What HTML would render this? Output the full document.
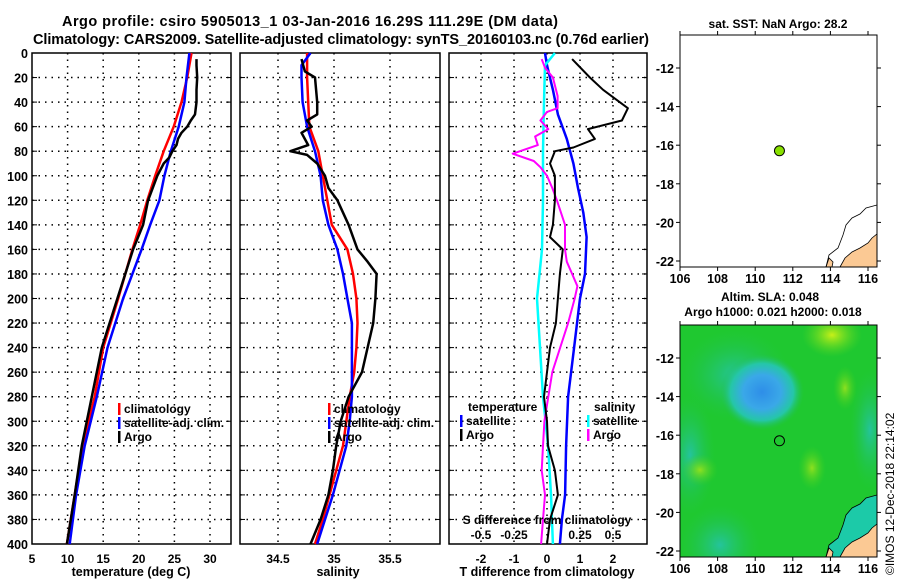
<!DOCTYPE html>
<html><head><meta charset="utf-8"><style>
body{margin:0;background:#fff;}
svg{display:block;font-family:"Liberation Sans",sans-serif;font-weight:bold;}
</style></head><body>
<svg id="c" width="900" height="580" viewBox="0 0 900 580">
<text x="310" y="26" text-anchor="middle" font-size="14.5" textLength="496">Argo profile: csiro 5905013_1 03-Jan-2016 16.29S 111.29E (DM data)</text>
<text x="341" y="44" text-anchor="middle" font-size="14.5" textLength="616">Climatology: CARS2009. Satellite-adjusted climatology: synTS_20160103.nc (0.76d earlier)</text>
<text x="778" y="28" text-anchor="middle" font-size="12">sat. SST: NaN Argo: 28.2</text>
<text x="770" y="301" text-anchor="middle" font-size="12">Altim. SLA: 0.048</text>
<text x="773" y="316" text-anchor="middle" font-size="12">Argo h1000: 0.021 h2000: 0.018</text>
<text transform="translate(894,575) rotate(-90)" font-size="12" font-weight="normal">©IMOS 12-Dec-2018 22:14:02</text>
<defs>
<radialGradient id="gBlue"><stop offset="0" stop-color="#2e8ee8"/><stop offset="0.45" stop-color="#3aa8e8"/><stop offset="0.75" stop-color="#25c6a8"/><stop offset="1" stop-color="#22c050" stop-opacity="0"/></radialGradient>
<radialGradient id="gCyan"><stop offset="0" stop-color="#24c49c"/><stop offset="1" stop-color="#22c44a" stop-opacity="0"/></radialGradient>
<radialGradient id="gYel"><stop offset="0" stop-color="#8ee020"/><stop offset="1" stop-color="#40d020" stop-opacity="0"/></radialGradient>
<radialGradient id="gYel2"><stop offset="0" stop-color="#c8f018"/><stop offset="1" stop-color="#60d820" stop-opacity="0"/></radialGradient>
<clipPath id="clipMap2"><rect x="680" y="325" width="197" height="232"/></clipPath>
</defs>
</svg>
<script>
// ---------- data ----------
const tDepths = [0,20,40,60,80,100,120,140,160,180,200,240,280,320,360,400];
const tClim   = [27.4,26.8,26.0,24.9,23.5,22.3,21.2,20.2,19.1,18.1,17.1,15.0,13.8,12.1,11.0,9.9];
const tSat    = [27.1,26.7,26.4,25.6,24.5,23.6,22.9,21.6,20.4,19.1,17.8,15.6,14.1,12.4,11.2,10.3];
const argoDepths = [5,10,20,30,40,50,55,60,65,70,75,80,85,90,100,120,140,160,200,240,280,320,360,400];
const tArgo   = [28.1,28.1,28.2,28.1,28.1,27.9,27.3,26.8,26.0,25.5,25.3,24.7,24.3,23.5,22.6,21.3,20.6,19.2,17.0,14.8,13.4,12.0,11.0,9.9];

const sDepths = [0,10,20,40,60,80,100,120,140,160,180,200,220,240,260,280,300,320,340,360,380,400];
const sClim = [34.76,34.76,34.76,34.77,34.78,34.86,34.90,34.94,34.98,35.12,35.17,35.20,35.21,35.20,35.18,35.14,35.11,35.08,35.02,34.96,34.90,34.83];
const sSat  = [34.79,34.71,34.71,34.72,34.76,34.83,34.88,34.90,34.95,35.03,35.08,35.12,35.16,35.16,35.16,35.16,35.14,35.11,35.05,34.99,34.92,34.85];
const sArgoDepths = [5,15,20,40,50,55,60,65,75,80,83,90,100,110,120,140,160,170,180,200,220,240,260,280,300,320,340,360,380,400];
const sArgo = [34.71,34.74,34.83,34.85,34.85,34.76,34.80,34.71,34.77,34.61,34.76,34.85,34.92,34.95,35.03,35.13,35.21,35.30,35.38,35.37,35.35,35.30,35.25,35.13,35.06,35.02,34.99,34.95,34.88,34.79];

const dTArgoDepths = [5,20,30,40,45,55,62,70,77,80,90,100,120,140,150,160,180,200,220,240,260,280,300,320,340,360,380,400];
const dTArgo = [0.76,1.30,1.70,2.20,2.45,2.27,1.24,1.45,0.80,0.24,0.09,0.24,0.24,0.18,0.09,0.48,0.39,0.33,0.27,0.09,0.0,-0.09,0.0,0.03,0.24,0.33,0.09,0.0];
const dDepths = [0,10,30,50,70,90,110,130,150,180,200,240,280,320,360,380,400];
const dTSat = [-0.06,0.0,0.18,0.33,0.60,0.80,0.94,1.10,1.20,1.15,1.00,0.82,0.64,0.58,0.55,0.45,0.39];
const dSSatDepths = [0,10,40,80,120,160,200,240,280,320,360,400];
const dSSat = [0.06,-0.015,-0.023,-0.03,-0.03,-0.038,-0.076,-0.053,-0.03,0.008,0.03,0.045];
const dSArgoDepths = [5,12,20,35,45,48,55,62,68,75,82,88,93,100,110,120,140,160,170,180,190,200,220,240,260,280,300,320,340,360,380,400];
const dSArgo = [-0.04,-0.015,0.045,0.08,0.08,0.0,-0.05,0.01,-0.09,-0.07,-0.26,-0.10,-0.05,0.0,0.04,0.075,0.136,0.136,0.15,0.19,0.23,0.21,0.16,0.10,0.04,0.01,-0.02,-0.03,-0.04,-0.015,-0.03,-0.045];

const depthTicks = [0,20,40,60,80,100,120,140,160,180,200,220,240,260,280,300,320,340,360,380,400];
const tTicks = [5,10,15,20,25,30];
const sTicks = [34.5,35,35.5];
const dTTicks = [-2,-1,0,1,2];
const dSTicks = [-0.5,-0.25,0.25,0.5];
const dSTickLabels = ["-0.5","-0.25","0.25","0.5"];
const lonTicks = [106,108,110,112,114,116];
const latTicks = [-12,-14,-16,-18,-20,-22];
const argoLon = [111.29];
const argoLat = [-16.29];

// ---------- helpers ----------
const svg = document.getElementById('c');
const NS = 'http://www.w3.org/2000/svg';
function mk(tag, attrs, parent){const e=document.createElementNS(NS,tag);for(const k in attrs)e.setAttribute(k,attrs[k]);(parent||svg).appendChild(e);return e;}
const Y0=53, Y1=544;
const yD = d => Y0 + d*(Y1-Y0)/400;
const xT = v => 32 + (v-5)*7.12;
const xS = v => 334 + (v-35)*112;
const xDT = v => 547 + v*33;
const xDS = v => 547 + v*132;
const xLon = v => 680 + (v-106)*18.8;
const yLat1 = v => 68 + (-12 - v)*19.3;
const yLat2 = v => 358 + (-12 - v)*19.3;

function panel(name, x0, x1, xticks, xfn, labels){
  const g = mk('g',{});
  
  
  depthTicks.forEach(d=>{ if(d>0&&d<400){ const l=mk('line',{x1:x0,x2:x1,y1:yD(d),y2:yD(d),stroke:'#000','stroke-width':1.5,'stroke-dasharray':'1.5 5'},g);  
    mk('line',{x1:x0,x2:x0+5,y1:yD(d),y2:yD(d),stroke:'#000'},g); mk('line',{x1:x1-5,x2:x1,y1:yD(d),y2:yD(d),stroke:'#000'},g);} });
  xticks.forEach((t,i)=>{ const x=xfn(t); if(x>x0+1&&x<x1-1){ const l=mk('line',{x1:x,x2:x,y1:Y0,y2:Y1,stroke:'#000','stroke-width':1.5,'stroke-dasharray':'1.5 5'},g);  }
    const tx=mk('text',{x:x,y:563,'text-anchor':'middle','font-size':12},g); tx.textContent=labels?labels[i]:String(t);
      });
  const r=mk('rect',{x:x0,y:Y0,width:x1-x0,height:Y1-Y0,fill:'none',stroke:'#000','stroke-width':1.5},g);
   
  return g;
}
function line(g, xs, ds, fx, color, w, name){
  const pts = xs.map((v,i)=>fx(v).toFixed(1)+','+yD(ds[i]).toFixed(1)).join(' ');
  const p = mk('polyline',{points:pts,fill:'none',stroke:color,'stroke-width':w,'stroke-linejoin':'round'},g);
  
  
}
function legend(g, x, y, items){
  items.forEach((it,i)=>{
    const yy=y+i*14;
    mk('rect',{x:x,y:yy-10,width:2.5,height:12,fill:it[1]},g);
    const t=mk('text',{x:x+6,y:yy,'font-size':12},g); t.textContent=it[0];
     
  });
}

depthTicks.forEach(d=>{ const t=mk('text',{x:28,y:yD(d)+5,'text-anchor':'end','font-size':12.5}); t.textContent=String(d);
    });

const p1 = panel('temperature-panel',32,231,tTicks,xT);
line(p1,tClim,tDepths,xT,'#ff0000',2.5,'temp-climatology-line');
line(p1,tSat,tDepths,xT,'#0000ff',2.5,'temp-satellite-line');
line(p1,tArgo,argoDepths,xT,'#000000',2.5,'temp-argo-line');
legend(p1,118,413,[['climatology','#f00'],['satellite-adj. clim.','#00f'],['Argo','#000']]);
const xl1=mk('text',{x:131,y:576,'text-anchor':'middle','font-size':12.5}); xl1.textContent='temperature (deg C)';
 

const p2 = panel('salinity-panel',240,440,sTicks,xS);
line(p2,sClim,sDepths,xS,'#ff0000',2.5,'sal-climatology-line');
line(p2,sSat,sDepths,xS,'#0000ff',2.5,'sal-satellite-line');
line(p2,sArgo,sArgoDepths,xS,'#000000',2.5,'sal-argo-line');
legend(p2,328,413,[['climatology','#f00'],['satellite-adj. clim.','#00f'],['Argo','#000']]);
const xl2=mk('text',{x:338,y:576,'text-anchor':'middle','font-size':12.5}); xl2.textContent='salinity';
 

const p3 = panel('difference-panel',449,647,dTTicks,xDT);
line(p3,dTSat,dDepths,xDT,'#0000ff',2.5,'dT-satellite-line');
line(p3,dSSat,dSSatDepths,xDS,'#00ffff',2.5,'dS-satellite-line');
line(p3,dSArgo,dSArgoDepths,xDS,'#ff00ff',2,'dS-argo-line');
line(p3,dTArgo,dTArgoDepths,xDT,'#000000',2,'dT-argo-line');
const lt=mk('text',{x:468,y:411,'font-size':12},p3); lt.textContent='temperature';
 
legend(p3,460,425,[['satellite','#00f'],['Argo','#000']]);
const ls=mk('text',{x:594,y:411,'font-size':12},p3); ls.textContent='salinity';
 
legend(p3,587,425,[['satellite','#0ff'],['Argo','#f0f']]);
const sl=mk('text',{x:547,y:524,'text-anchor':'middle','font-size':12},p3); sl.textContent='S difference from climatology';
 
dSTicks.forEach((t,i)=>{ const tx=mk('text',{x:xDS(t),y:539,'text-anchor':'middle','font-size':12},p3); tx.textContent=dSTickLabels[i];
    });
const xl3=mk('text',{x:547,y:576,'text-anchor':'middle','font-size':12.5}); xl3.textContent='T difference from climatology';
 

// ---------- maps ----------
function coast(g, yfn, off){
  const land = [[840,267],[845,258],[852,252],[860,248],[868,243],[872,238],[877,234],[877,267]];
  mk('polygon',{points:land.map(p=>p[0]+','+(p[1]+off)).join(' '),fill:'#fbc994',stroke:'#000','stroke-width':0.8},g);
  mk('polygon',{points:[[826,267],[829,258],[833,262],[832,267]].map(p=>p[0]+','+(p[1]+off)).join(' '),fill:'#fbc994',stroke:'#000','stroke-width':0.8},g);
  const shelf=[[826,267],[829,255],[838,248],[843,235],[846,225],[852,218],[860,214],[866,208],[877,205]];
  mk('polyline',{points:shelf.map(p=>p[0]+','+(p[1]+off)).join(' '),fill:'none',stroke:'#000','stroke-width':0.8},g);
}
function mapAxes(g, top, yfn){
  lonTicks.forEach(l=>{ const x=xLon(l); mk('line',{x1:x,x2:x,y1:top,y2:top-4,stroke:'#000'},g); mk('line',{x1:x,x2:x,y1:top+232,y2:top+236,stroke:'#000'},g);
    const t=mk('text',{x:x,y:top+248,'text-anchor':'middle','font-size':12.5},g); t.textContent=String(l);
      });
  latTicks.forEach(l=>{ const y=yfn(l); mk('line',{x1:680,x2:676,y1:y,y2:y,stroke:'#000'},g); mk('line',{x1:877,x2:881,y1:y,y2:y,stroke:'#000'},g);
    const t=mk('text',{x:674,y:y+5,'text-anchor':'end','font-size':12.5},g); t.textContent=String(l);
      });
  mk('rect',{x:680,y:top,width:197,height:232,fill:'none',stroke:'#000','stroke-width':1},g);
}
const m1 = mk('g',{});


mk('rect',{x:680,y:35,width:197,height:232,fill:'#fff'},m1);
coast(m1,yLat1,0);
argoLon.forEach((lo,i)=>{ const c=mk('circle',{cx:xLon(lo),cy:yLat1(argoLat[i]),r:5,fill:'#88e000',stroke:'#000'},m1);
    });
mapAxes(m1,35,yLat1);

const m2 = mk('g',{});


const m2c = mk('g',{'clip-path':'url(#clipMap2)'},m2);
mk('rect',{x:680,y:325,width:197,height:232,fill:'#1fc830'},m2c);
mk('ellipse',{cx:735,cy:375,rx:55,ry:45,fill:'url(#gCyan)'},m2c);
mk('ellipse',{cx:690,cy:455,rx:25,ry:60,fill:'url(#gCyan)'},m2c);
mk('ellipse',{cx:720,cy:545,rx:40,ry:40,fill:'url(#gCyan)'},m2c);
mk('ellipse',{cx:870,cy:430,rx:20,ry:60,fill:'url(#gCyan)'},m2c);
mk('ellipse',{cx:762,cy:392,rx:42,ry:38,fill:'url(#gBlue)'},m2c);
mk('ellipse',{cx:832,cy:335,rx:30,ry:22,fill:'url(#gYel2)'},m2c);
mk('ellipse',{cx:845,cy:388,rx:12,ry:22,fill:'url(#gYel)'},m2c);
mk('ellipse',{cx:812,cy:468,rx:14,ry:22,fill:'url(#gYel)'},m2c);
mk('ellipse',{cx:700,cy:470,rx:18,ry:16,fill:'url(#gYel)'},m2c);
mk('polygon',{points:'826,557 829,545 838,538 843,525 846,515 852,508 860,504 866,498 877,495 877,557',fill:'#1ccaa8'},m2c);
coast(m2c,yLat2,290);
argoLon.forEach((lo,i)=>{ const c=mk('circle',{cx:xLon(lo),cy:yLat2(argoLat[i]),r:5,fill:'none',stroke:'#000'},m2);
    });
mapAxes(m2,325,yLat2);
</script>
</body></html>
